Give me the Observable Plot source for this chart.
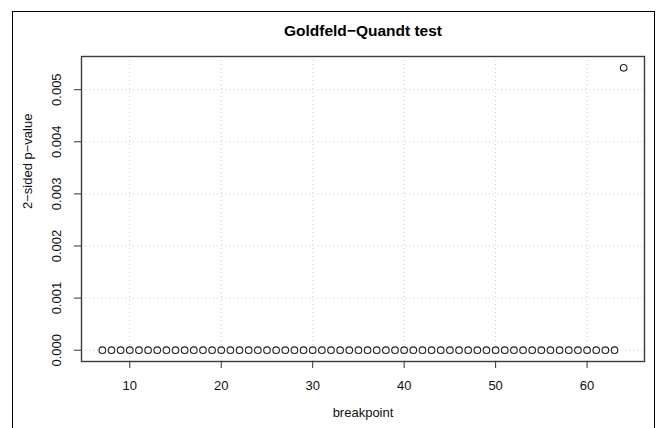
<!DOCTYPE html>
<html><head><meta charset="utf-8">
<script src="https://cdn.jsdelivr.net/npm/d3@7"></script>
<script src="https://cdn.jsdelivr.net/npm/@observablehq/plot@0.6"></script>
<style>
html,body{margin:0;padding:0;background:#fff;}
#wrap{position:relative;width:659px;height:428px;overflow:hidden;background:#fff;}
#border{position:absolute;left:12px;top:11px;width:643px;height:440px;border:1px solid #000;box-sizing:border-box;pointer-events:none;}
</style></head>
<body><div id="wrap"><div id="chart"></div><div id="border"></div></div>
<script>
const breakpoints = [7,8,9,10,11,12,13,14,15,16,17,18,19,20,21,22,23,24,25,26,27,28,29,30,31,32,33,34,35,
  36,37,38,39,40,41,42,43,44,45,46,47,48,49,50,51,52,53,54,55,56,57,58,59,60,61,62,63,64];
const pValues = [0,0,0,0,0,0,0,0,0,0,0,0,0,0,0,0,0,0,0,0,0,0,0,0,0,0,0,0,0,
  0,0,0,0,0,0,0,0,0,0,0,0,0,0,0,0,0,0,0,0,0,0,0,0,0,0,0,0,0.00542];
const xTicks = [10,20,30,40,50,60];
const yTicks = [0,0.001,0.002,0.003,0.004,0.005];
const yTickLabels = ["0.000","0.001","0.002","0.003","0.004","0.005"];
const title = "Goldfeld\u2212Quandt test";
const xLabel = "breakpoint";
const yLabel = "2\u2212sided p\u2212value";

const data = breakpoints.map((b, i) => ({b, p: pValues[i]}));
function pad(ext) { const d = (ext[1] - ext[0]) * 0.04; return [ext[0] - d, ext[1] + d]; }

const font = "'Liberation Sans', Arial, Helvetica, sans-serif";
const chart = Plot.plot({
  width: 659, height: 428,
  marginLeft: 81, marginRight: 15, marginTop: 56, marginBottom: 67,
  style: {fontFamily: font, fontSize: "13px", background: "transparent", color: "#111"},
  x: {domain: pad(d3.extent(breakpoints)), axis: null},
  y: {domain: pad(d3.extent(pValues)), axis: null},
  marks: [
    Plot.gridX(xTicks, {stroke: "#cfcfcf", strokeOpacity: 1, strokeDasharray: "1,3"}),
    Plot.gridY(yTicks, {stroke: "#cfcfcf", strokeOpacity: 1, strokeDasharray: "1,3"}),
    Plot.axisX(xTicks, {anchor: "bottom", tickSize: 7, tickPadding: 12, label: null, stroke: "#333", fill: "#111", fontSize: 13, tickFormat: d => String(d)}),
    Plot.axisY(yTicks, {anchor: "left", tickSize: 7, tickPadding: 14, label: null, stroke: "#333", fill: "#111", fontSize: 13,
      tickRotate: -90, textAnchor: "middle", lineAnchor: "bottom", tickFormat: (d, i) => yTickLabels[yTicks.indexOf(d)]}),
    Plot.frame({stroke: "#3a3a3a", strokeWidth: 1.4}),
    Plot.dot(data, {x: "b", y: "p", r: 3.3, stroke: "#222", strokeWidth: 1.1, fill: "none"}),
    Plot.text([title], {frameAnchor: "top", dy: -32, fontSize: 15.5, fontWeight: "bold", fill: "#000"}),
    Plot.text([xLabel], {frameAnchor: "bottom", dy: 55.5, fontSize: 13, fill: "#111"}),
    Plot.text([yLabel], {frameAnchor: "left", dx: -53.7, rotate: -90, fontSize: 13, fill: "#111"})
  ]
});
document.getElementById("chart").appendChild(chart);
</script>
</body></html>
